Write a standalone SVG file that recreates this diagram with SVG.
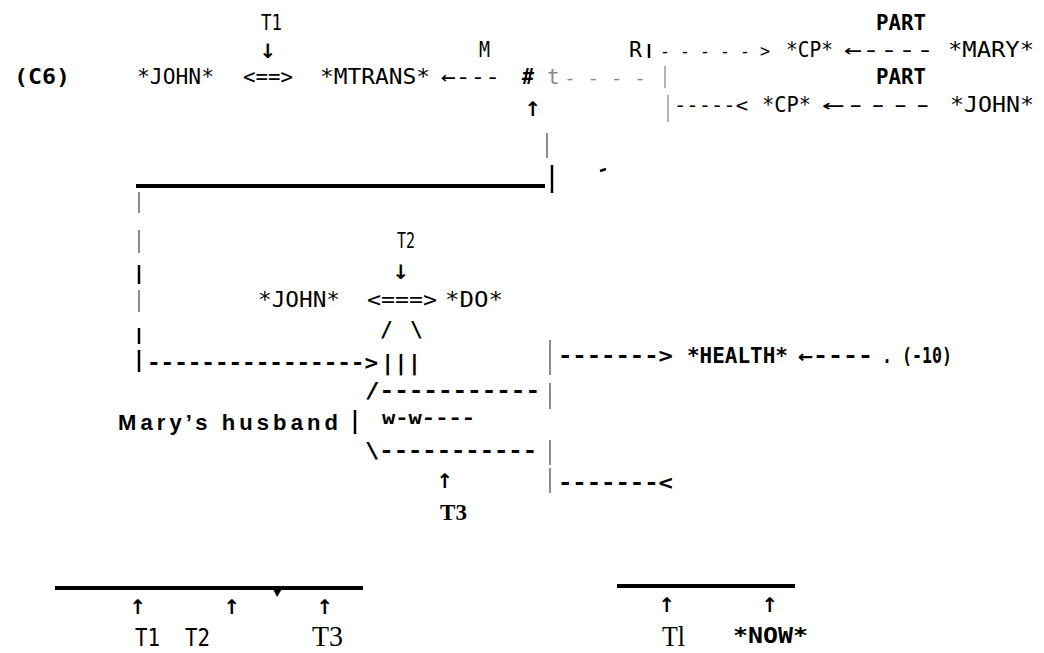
<svg xmlns="http://www.w3.org/2000/svg" width="1044" height="653" viewBox="0 0 1044 653">
<style>
text{fill:#000}
.m{font-family:"DejaVu Sans Mono","Liberation Mono",monospace;font-size:21px}
.b{font-weight:bold}
.g{fill:#888}
.ar{font-family:"DejaVu Sans",sans-serif;font-size:20px;font-weight:bold}
.h{font-family:"Liberation Sans",Arial,sans-serif;font-size:22px;font-weight:bold}
.s{font-family:"Liberation Serif","Times New Roman",serif;font-size:30px}
.sb{font-family:"Liberation Serif","Times New Roman",serif;font-size:24px;font-weight:bold}
.thick{stroke:#000;stroke-width:4}
.thin{stroke:#666;stroke-width:1.5}
.gbar{stroke:#999;stroke-width:1.5}
.bar{stroke:#000;stroke-width:2.5}
</style>
<rect width="1044" height="653" fill="#fff"/>

<g id="connectors">
  <line class="thick" x1="136" y1="186" x2="545" y2="186"/>
  <line class="thin" x1="547" y1="133" x2="547" y2="158"/>
  <line class="bar" x1="552" y1="165" x2="552" y2="193"/>
  <line class="bar" x1="600" y1="171" x2="606" y2="169"/>
  <line class="bar" x1="649" y1="44" x2="649" y2="58"/>
  <line class="gbar" x1="665" y1="66" x2="665" y2="88"/>
  <line class="gbar" x1="668" y1="95" x2="668" y2="122"/>
  <line class="thin" x1="139" y1="192" x2="139" y2="213"/>
  <line class="thin" x1="139" y1="230" x2="139" y2="253"/>
  <line class="bar" x1="139" y1="265" x2="139" y2="284"/>
  <line class="thin" x1="139" y1="290" x2="139" y2="312"/>
  <line class="bar" x1="139" y1="328" x2="139" y2="344"/>
  <line class="bar" x1="139" y1="350" x2="139" y2="372"/>
  <line class="thin" x1="550" y1="340" x2="550" y2="375"/>
  <line class="thin" x1="550" y1="383" x2="550" y2="409"/>
  <line class="thin" x1="550" y1="440" x2="550" y2="465"/>
  <line class="thin" x1="550" y1="468" x2="550" y2="493"/>
  <line class="bar" x1="355" y1="410" x2="355" y2="434"/>
  <text class="m" x="660" y="57" style="font-size:17px" textLength="110" lengthAdjust="spacingAndGlyphs">- - - - - &gt;</text>
  <text class="m" x="844" y="57" textLength="90" lengthAdjust="spacingAndGlyphs">←----</text>
  <text class="m" x="441" y="84" textLength="59" lengthAdjust="spacingAndGlyphs">←---</text>
  <text class="m g" x="547" y="84">t</text>
  <text class="m g" x="564" y="84" style="font-size:18px" textLength="82" lengthAdjust="spacingAndGlyphs">- - - -</text>
  <text class="m" x="674" y="112" style="font-size:19px" textLength="74" lengthAdjust="spacingAndGlyphs">-----&lt;</text>
  <text class="m" x="822" y="112" textLength="112" lengthAdjust="spacingAndGlyphs">←----</text>
  <text class="ar" x="268" y="58" text-anchor="middle">↓</text>
  <text class="ar" x="533" y="116" text-anchor="middle">↑</text>
  <text class="ar" x="401" y="279" text-anchor="middle">↓</text>
  <text class="m b" x="147" y="370" textLength="231" lengthAdjust="spacingAndGlyphs">----------------&gt;</text>
  <text class="m b" x="380" y="337">/</text>
  <text class="m b" x="410" y="337">\</text>
  <text class="m b" x="381" y="370" textLength="40" lengthAdjust="spacingAndGlyphs">|||</text>
  <text class="m b" x="558" y="363" textLength="115" lengthAdjust="spacingAndGlyphs">-------&gt;</text>
  <text class="m b" x="798" y="363" textLength="75" lengthAdjust="spacingAndGlyphs">←----</text>
  <text class="m b" x="365" y="398" textLength="175" lengthAdjust="spacingAndGlyphs">/-----------</text>
  <text class="m b" x="365" y="458" textLength="172" lengthAdjust="spacingAndGlyphs">\-----------</text>
  <text class="ar" x="445" y="488" text-anchor="middle">↑</text>
  <text class="m b" x="558" y="490" textLength="115" lengthAdjust="spacingAndGlyphs">-------&lt;</text>
  <line class="thick" x1="55" y1="588" x2="363" y2="588" stroke-width="3"/>
  <path d="M273 589 L282 589 L277 597 Z" fill="#000"/>
  <line class="thick" x1="617" y1="586" x2="795" y2="586" stroke-width="3"/>
  <text class="ar" x="138" y="614" text-anchor="middle">↑</text>
  <text class="ar" x="232" y="614" text-anchor="middle">↑</text>
  <text class="ar" x="325" y="614" text-anchor="middle">↑</text>
  <text class="ar" x="667" y="612" text-anchor="middle">↑</text>
  <text class="ar" x="770" y="612" text-anchor="middle">↑</text>
</g>

<g id="label-c6"><text class="m b" x="14" y="84" textLength="56" lengthAdjust="spacingAndGlyphs">(C6)</text></g>
<g id="t1-top"><text class="m" x="261" y="30" textLength="21" lengthAdjust="spacingAndGlyphs">T1</text></g>
<g id="part-1"><text class="m b" x="876" y="30" textLength="50" lengthAdjust="spacingAndGlyphs">PART</text></g>
<g id="m-label"><text class="m" x="479" y="57" textLength="11" lengthAdjust="spacingAndGlyphs">M</text></g>
<g id="r-label"><text class="m" x="629" y="57" textLength="13" lengthAdjust="spacingAndGlyphs">R</text></g>
<g id="cp-1"><text class="m" x="786" y="57" textLength="47" lengthAdjust="spacingAndGlyphs">*CP*</text></g>
<g id="mary"><text class="m" x="948" y="57" textLength="86" lengthAdjust="spacingAndGlyphs">*MARY*</text></g>
<g id="john-1"><text class="m" x="137" y="84" textLength="77" lengthAdjust="spacingAndGlyphs">*JOHN*</text></g>
<g id="link-1"><text class="m" x="243" y="84" textLength="50" lengthAdjust="spacingAndGlyphs">&lt;==&gt;</text></g>
<g id="mtrans"><text class="m" x="320" y="84" textLength="110" lengthAdjust="spacingAndGlyphs">*MTRANS*</text></g>
<g id="hash"><text class="m b" x="522" y="84" font-style="italic" textLength="12" lengthAdjust="spacingAndGlyphs">#</text></g>
<g id="part-2"><text class="m b" x="876" y="84" textLength="50" lengthAdjust="spacingAndGlyphs">PART</text></g>
<g id="cp-2"><text class="m" x="762" y="112" textLength="49" lengthAdjust="spacingAndGlyphs">*CP*</text></g>
<g id="john-2"><text class="m" x="950" y="112" textLength="84" lengthAdjust="spacingAndGlyphs">*JOHN*</text></g>

<g id="t2"><text class="m" x="397" y="248" textLength="18" lengthAdjust="spacingAndGlyphs">T2</text></g>
<g id="john-3"><text class="m" x="258" y="307" textLength="82" lengthAdjust="spacingAndGlyphs">*JOHN*</text></g>
<g id="link-2"><text class="m" x="367" y="307" textLength="70" lengthAdjust="spacingAndGlyphs">&lt;===&gt;</text></g>
<g id="do"><text class="m" x="445" y="307" textLength="58" lengthAdjust="spacingAndGlyphs">*DO*</text></g>
<g id="health"><text class="m b" x="687" y="363" textLength="101" lengthAdjust="spacingAndGlyphs">*HEALTH*</text></g>
<g id="value"><text class="m b" x="882" y="363" textLength="70" lengthAdjust="spacingAndGlyphs">. (-10)</text></g>
<g id="marys-husband"><text class="h" x="118" y="430" textLength="220" lengthAdjust="spacing">Mary’s husband</text></g>
<g id="ww"><text class="m b" x="382" y="424" style="font-size:17px" textLength="93" lengthAdjust="spacingAndGlyphs">w-w----</text></g>
<g id="t3-mid"><text class="sb" x="440" y="520" textLength="27" lengthAdjust="spacingAndGlyphs">T3</text></g>

<g id="timeline-1">
  <text class="m" x="135" y="646" style="font-size:25px" textLength="25" lengthAdjust="spacingAndGlyphs">T1</text>
  <text class="m" x="185" y="646" style="font-size:25px" textLength="25" lengthAdjust="spacingAndGlyphs">T2</text>
  <text class="s" x="312" y="646" textLength="31" lengthAdjust="spacingAndGlyphs">T3</text>
</g>
<g id="timeline-2">
  <text class="s" x="662" y="646" textLength="23" lengthAdjust="spacingAndGlyphs">Tl</text>
  <text class="m b" x="733" y="643" textLength="75" lengthAdjust="spacingAndGlyphs">*NOW*</text>
</g>
</svg>
